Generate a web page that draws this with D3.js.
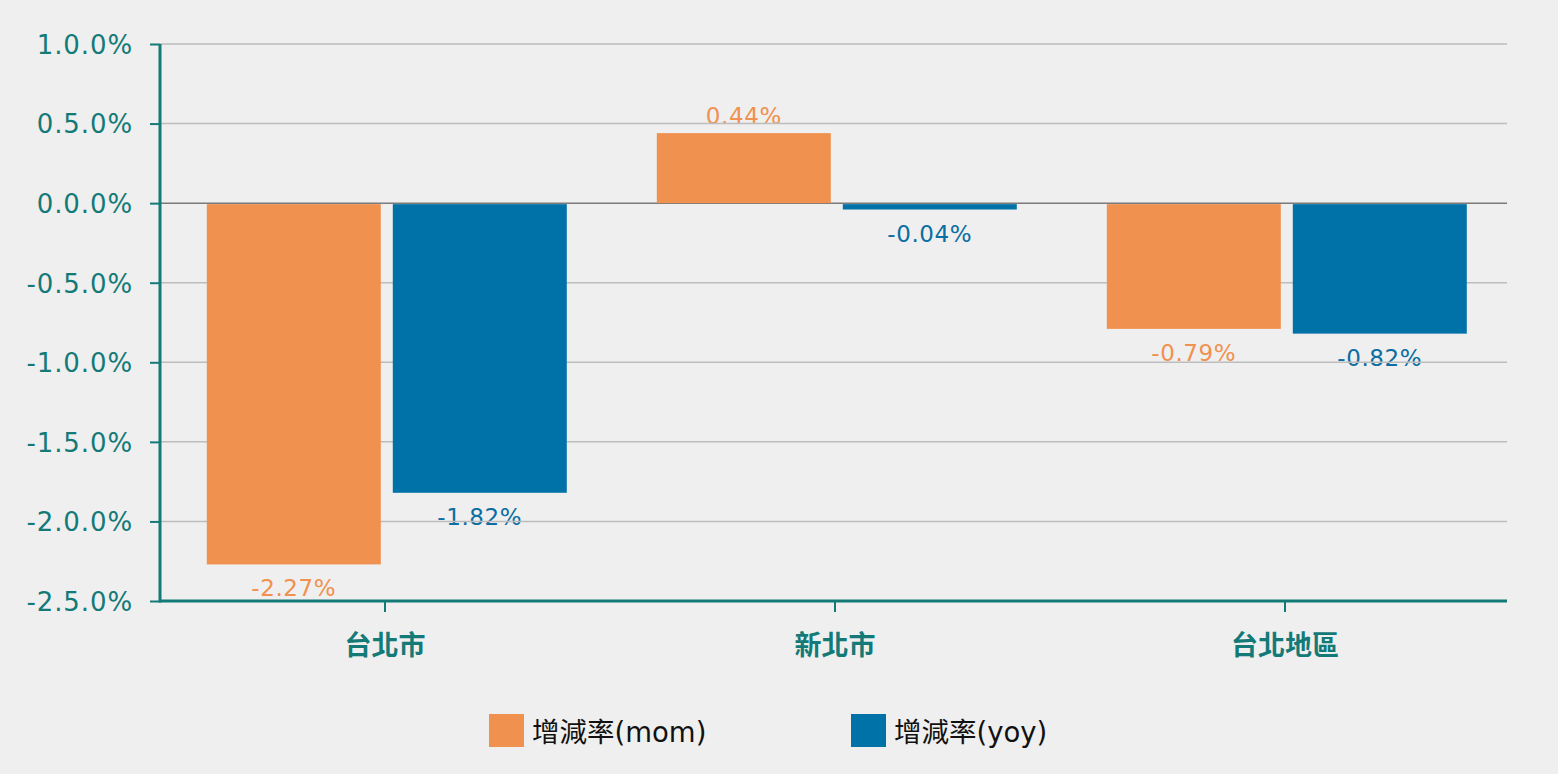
<!DOCTYPE html>
<html>
<head>
<meta charset="utf-8">
<script src="https://cdn.jsdelivr.net/npm/d3@7"></script>
<style>
  html, body { margin: 0; padding: 0; background: #efefef; }
  svg { display: block; }
</style>
</head>
<body>
<svg id="chart" width="1558" height="774"></svg>
<script>
// ---- data ----
const categories = ["台北市", "新北市", "台北地區"];
const seriesNames = ["增減率(mom)", "增減率(yoy)"];
const momValues = [-2.27, 0.44, -0.79];
const yoyValues = [-1.82, -0.04, -0.82];
const yTickValues = [1.0, 0.5, 0.0, -0.5, -1.0, -1.5, -2.0, -2.5];
const yTickLabels = ["1.0.0%", "0.5.0%", "0.0.0%", "-0.5.0%", "-1.0.0%", "-1.5.0%", "-2.0.0%", "-2.5.0%"];
const dataLabels = [["-2.27%", "0.44%", "-0.79%"], ["-1.82%", "-0.04%", "-0.82%"]];

// ---- styles ----
const colors = ["#F0914F", "#0072A8"];
const labelColors = ["#F0914F", "#0A6DA3"];
const teal = "#137A78";
const font = "'DejaVu Sans', Verdana, sans-serif";
const cjkBold = "'Noto Sans CJK TC', 'Noto Sans CJK SC', sans-serif";

const mLeft = 160, mRight = 1510, mTop = 44, mBottom = 601;
const svg = d3.select("#chart");

const x0 = d3.scaleBand().domain(categories).range([mLeft, mRight]).padding(0);
const x1 = d3.scaleBand().domain(seriesNames).range([0, x0.bandwidth()])
  .paddingInner(0.0645).paddingOuter(0.242).align(0.52);
const y = d3.scaleLinear().domain([-2.5, 1.0]).range([mBottom, mTop]);

const series = [momValues, yoyValues];
const rows = [];
series.forEach((vals, si) => vals.forEach((v, ci) => rows.push({ si, ci, v, cat: categories[ci], name: seriesNames[si] })));

// data labels (drawn first; grid lines pass over them)
svg.append("g").selectAll("text").data(rows).join("text")
  .attr("x", d => x0(d.cat) + x1(d.name) + x1.bandwidth() / 2)
  .attr("y", d => d.v >= 0 ? y(d.v) - 9 : y(d.v) + 32)
  .attr("text-anchor", "middle")
  .attr("font-family", font)
  .attr("font-size", 23)
  .attr("letter-spacing", 0.6)
  .attr("fill", d => labelColors[d.si])
  .text(d => dataLabels[d.si][d.ci]);

// grid lines
svg.append("g").selectAll("line").data(yTickValues.filter(v => v !== -2.5)).join("line")
  .attr("x1", mLeft).attr("x2", 1507)
  .attr("y1", d => y(d)).attr("y2", d => y(d))
  .attr("stroke", d => d === 0 ? "#7a7a7a" : "#bdbdbd")
  .attr("stroke-width", 1.5);

// bars
svg.append("g").selectAll("rect").data(rows).join("rect")
  .attr("x", d => x0(d.cat) + x1(d.name))
  .attr("width", x1.bandwidth())
  .attr("y", d => Math.min(y(d.v), y(0)) + (d.v < 0 ? 1 : 0))
  .attr("height", d => Math.abs(y(d.v) - y(0)) - (d.v < 0 ? 1 : 0))
  .attr("fill", d => colors[d.si]);

// y axis
const yAxis = d3.axisLeft(y).tickValues(yTickValues)
  .tickFormat((d, i) => yTickLabels[i]).tickSize(10).tickPadding(17);
const gy = svg.append("g").attr("transform", `translate(${mLeft},0)`).call(yAxis);
gy.select(".domain").attr("stroke", teal).attr("stroke-width", 3).attr("d", `M0,${mTop}V${mBottom + 1.5}`);
gy.selectAll(".tick line").attr("stroke", teal).attr("stroke-width", 2);
gy.selectAll(".tick text").attr("fill", teal).attr("font-family", font)
  .attr("font-size", 26).attr("letter-spacing", 0.9).attr("dy", "0.36em");

// x axis
const xAxis = d3.axisBottom(x0).tickSize(11).tickPadding(24);
const gx = svg.append("g").attr("transform", `translate(0,${mBottom})`).call(xAxis);
gx.select(".domain").attr("stroke", teal).attr("stroke-width", 3).attr("d", `M${mLeft},0H1507`);
gx.selectAll(".tick line").attr("stroke", teal).attr("stroke-width", 2);
gx.selectAll(".tick text").attr("fill", teal).attr("font-family", cjkBold)
  .attr("font-weight", "bold").attr("font-size", 27);

// legend
const legendX = [489, 851];
const lg = svg.append("g").selectAll("g").data(seriesNames).join("g")
  .attr("transform", (d, i) => `translate(${legendX[i]},714)`);
lg.append("rect").attr("width", 35).attr("height", 33).attr("fill", (d, i) => colors[i]);
lg.append("text").attr("x", 43).attr("y", 28)
  .attr("font-family", "'DejaVu Sans', 'Noto Sans CJK TC', sans-serif")
  .attr("font-size", 27.5).attr("fill", "#111")
  .text(d => d);
</script>
</body>
</html>
